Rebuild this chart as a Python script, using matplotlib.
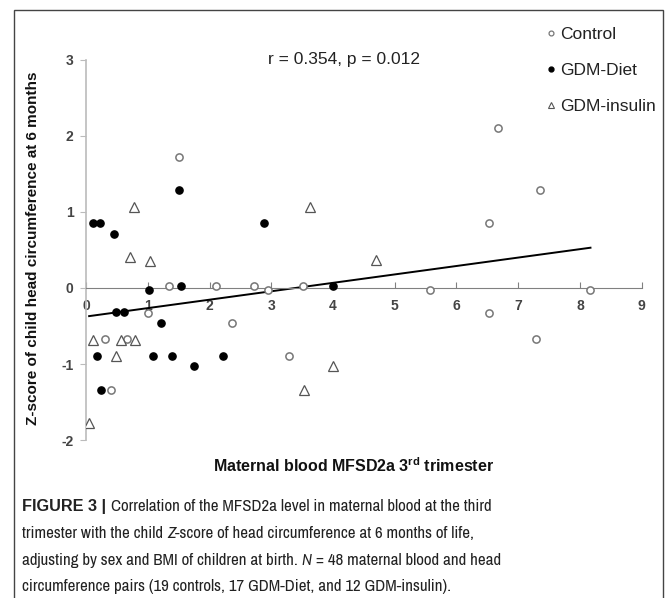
"""Scatter of child head-circumference Z-score vs maternal MFSD2a, by group."""

import matplotlib

matplotlib.use("Agg")
import matplotlib.pyplot as plt  # noqa: E402
from matplotlib.lines import Line2D  # noqa: E402
from matplotlib.patches import Rectangle  # noqa: E402

plt.rcParams["font.family"] = ["Liberation Sans", "DejaVu Sans"]
plt.rcParams["axes.unicode_minus"] = False
plt.rcParams["mathtext.fontset"] = "custom"
plt.rcParams["mathtext.rm"] = "Liberation Sans"
plt.rcParams["mathtext.bf"] = "Liberation Sans:bold"

# data
control_x = [1.51, 1.35, 2.10, 2.72, 2.94, 3.52, 1.00, 2.36, 0.31, 0.66, 3.28, 0.40,
             6.67, 7.36, 6.52, 5.57, 8.17, 6.52, 7.29]
control_y = [1.73, 0.02, 0.02, 0.02, -0.02, 0.02, -0.33, -0.46, -0.67, -0.67, -0.90, -1.34,
             2.10, 1.29, 0.85, -0.02, -0.02, -0.33, -0.67]

diet_x = [0.11, 0.22, 0.45, 1.50, 2.88, 1.02, 1.54, 4.00, 0.49, 0.62, 1.21, 0.17,
          1.08, 1.40, 2.22, 1.75, 0.25]
diet_y = [0.85, 0.85, 0.71, 1.29, 0.85, -0.02, 0.02, 0.02, -0.32, -0.32, -0.46, -0.90,
          -0.90, -0.90, -0.90, -1.02, -1.34]

insulin_x = [0.78, 3.62, 0.71, 1.03, 4.69, 0.12, 0.56, 0.80, 0.49, 4.00, 3.53, 0.05]
insulin_y = [1.06, 1.06, 0.41, 0.36, 0.37, -0.68, -0.68, -0.68, -0.90, -1.02, -1.34, -1.78]

fit_x = [0.05, 8.17]
fit_y = [-0.37, 0.53]

x_ticks = list(range(0, 10))
y_ticks = [-2, -1, 0, 1, 2, 3]

caption_lines = [
    [("FIGURE 3 | ", "bold", "normal"),
     ("Correlation of the MFSD2a level in maternal blood at the third", "normal", "normal")],
    [("trimester with the child ", "normal", "normal"), ("Z", "normal", "italic"),
     ("-score of head circumference at 6 months of life,", "normal", "normal")],
    [("adjusting by sex and BMI of children at birth. ", "normal", "normal"),
     ("N", "normal", "italic"), (" = 48 maternal blood and head", "normal", "normal")],
    [("circumference pairs (19 controls, 17 GDM-Diet, and 12 GDM-insulin).", "normal", "normal")],
]

fig = plt.figure(figsize=(6.7, 5.98), dpi=100)
ax = fig.add_axes([0.1284, 0.2642, 0.8294, 0.6355])

ax.plot(fit_x, fit_y, color="black", lw=1.4, zorder=2)
ax.plot(control_x, control_y, ls="none", marker="o", ms=5.2, mfc="white", mec="#777777", mew=1.1, zorder=3)
ax.plot(diet_x, diet_y, ls="none", marker="o", ms=5.2, mfc="black", mec="black", zorder=3)
ax.plot(insulin_x, insulin_y, ls="none", marker="^", ms=7, mfc="white", mec="#555555", mew=0.9, zorder=3)

ax.set_xlim(0, 9)
ax.set_ylim(-2, 3)
ax.spines["top"].set_visible(False)
ax.spines["right"].set_visible(False)
ax.spines["bottom"].set_position(("data", 0))
ax.spines["bottom"].set_color("#808080")
ax.spines["left"].set_color("#bbbbbb")
ax.spines["left"].set_linewidth(1.2)
ax.set_xticks(x_ticks)
ax.set_yticks(y_ticks)
ax.tick_params(axis="x", direction="in", length=4, color="#808080", pad=8,
               labelsize=10, labelcolor="#444444")
ax.tick_params(axis="y", direction="out", length=4, color="#bbbbbb", pad=5,
               labelsize=10, labelcolor="#444444")
for lab in ax.get_xticklabels() + ax.get_yticklabels():
    lab.set_fontweight("bold")

ax.text(0.465, 1.0, "r = 0.354, p = 0.012", transform=ax.transAxes, ha="center",
        va="center", fontsize=12.5, color="#222222")

handles = [
    Line2D([], [], ls="none", marker="o", ms=3.5, mfc="white", mec="#777777", mew=0.9),
    Line2D([], [], ls="none", marker="o", ms=3.5, mfc="black", mec="black"),
    Line2D([], [], ls="none", marker="^", ms=4.2, mfc="white", mec="#555555", mew=0.8),
]
fig.legend(handles, ["Control", "GDM-Diet", "GDM-insulin"], loc="upper left",
           bbox_to_anchor=(0.803, 0.97), frameon=False, fontsize=12.5, labelcolor="#222222",
           handlelength=0.5, handletextpad=0.3, labelspacing=1.22, borderpad=0)

fig.text(0.528, 0.222, r"Maternal blood MFSD2a 3$^{\mathbf{rd}}$ trimester", ha="center",
         va="center", fontsize=11.5, fontweight="bold", color="#111111")
fig.text(0.05, 0.585, "Z-score of child head circumference at 6 months", rotation=90,
         ha="center", va="center", fontsize=11, fontweight="bold", color="#111111")

# frame around figure and caption
fig.patches.append(Rectangle((14 / 670, -0.01), 649 / 670, 1 - 10 / 598 + 0.01,
                             transform=fig.transFigure, fill=False, ec="#444444", lw=1.0))

# caption in a narrow face where one exists, sized to the reference line width
cap_font = ["Liberation Sans Narrow", "Archivo Narrow", "Liberation Sans", "DejaVu Sans"]
bold_font = ["Liberation Sans Narrow", "Liberation Sans", "DejaVu Sans"]
renderer = fig.canvas.get_renderer()


def seg_width(txt, size, weight, style, family):
    # pixel width with leading/trailing spaces kept by guard characters
    t = fig.text(0, 0, "|" + txt + "|", fontsize=size, fontweight=weight,
                 fontstyle=style, family=family)
    g = fig.text(0, 0, "||", fontsize=size, fontweight=weight, fontstyle=style,
                 family=family)
    w = t.get_window_extent(renderer).width - g.get_window_extent(renderer).width
    t.remove()
    g.remove()
    return w


cap_size = 13 * 430 / seg_width(caption_lines[3][0][0], 13, "normal", "normal", cap_font)
bold_size = 13 * 84 / seg_width("FIGURE 3 |", 13, "bold", "normal", bold_font)

line_y = [511, 538, 565, 591]
for segs, py in zip(caption_lines, line_y):
    x = 22.0
    for txt, weight, style in segs:
        fam = bold_font if weight == "bold" else cap_font
        size = bold_size if weight == "bold" else cap_size
        fig.text(x / 670, 1 - py / 598, txt, ha="left", va="baseline", fontsize=size,
                 fontweight=weight, fontstyle=style, family=fam, color="#222222")
        x += seg_width(txt, size, weight, style, fam)

fig.savefig("out.png", dpi=100)
